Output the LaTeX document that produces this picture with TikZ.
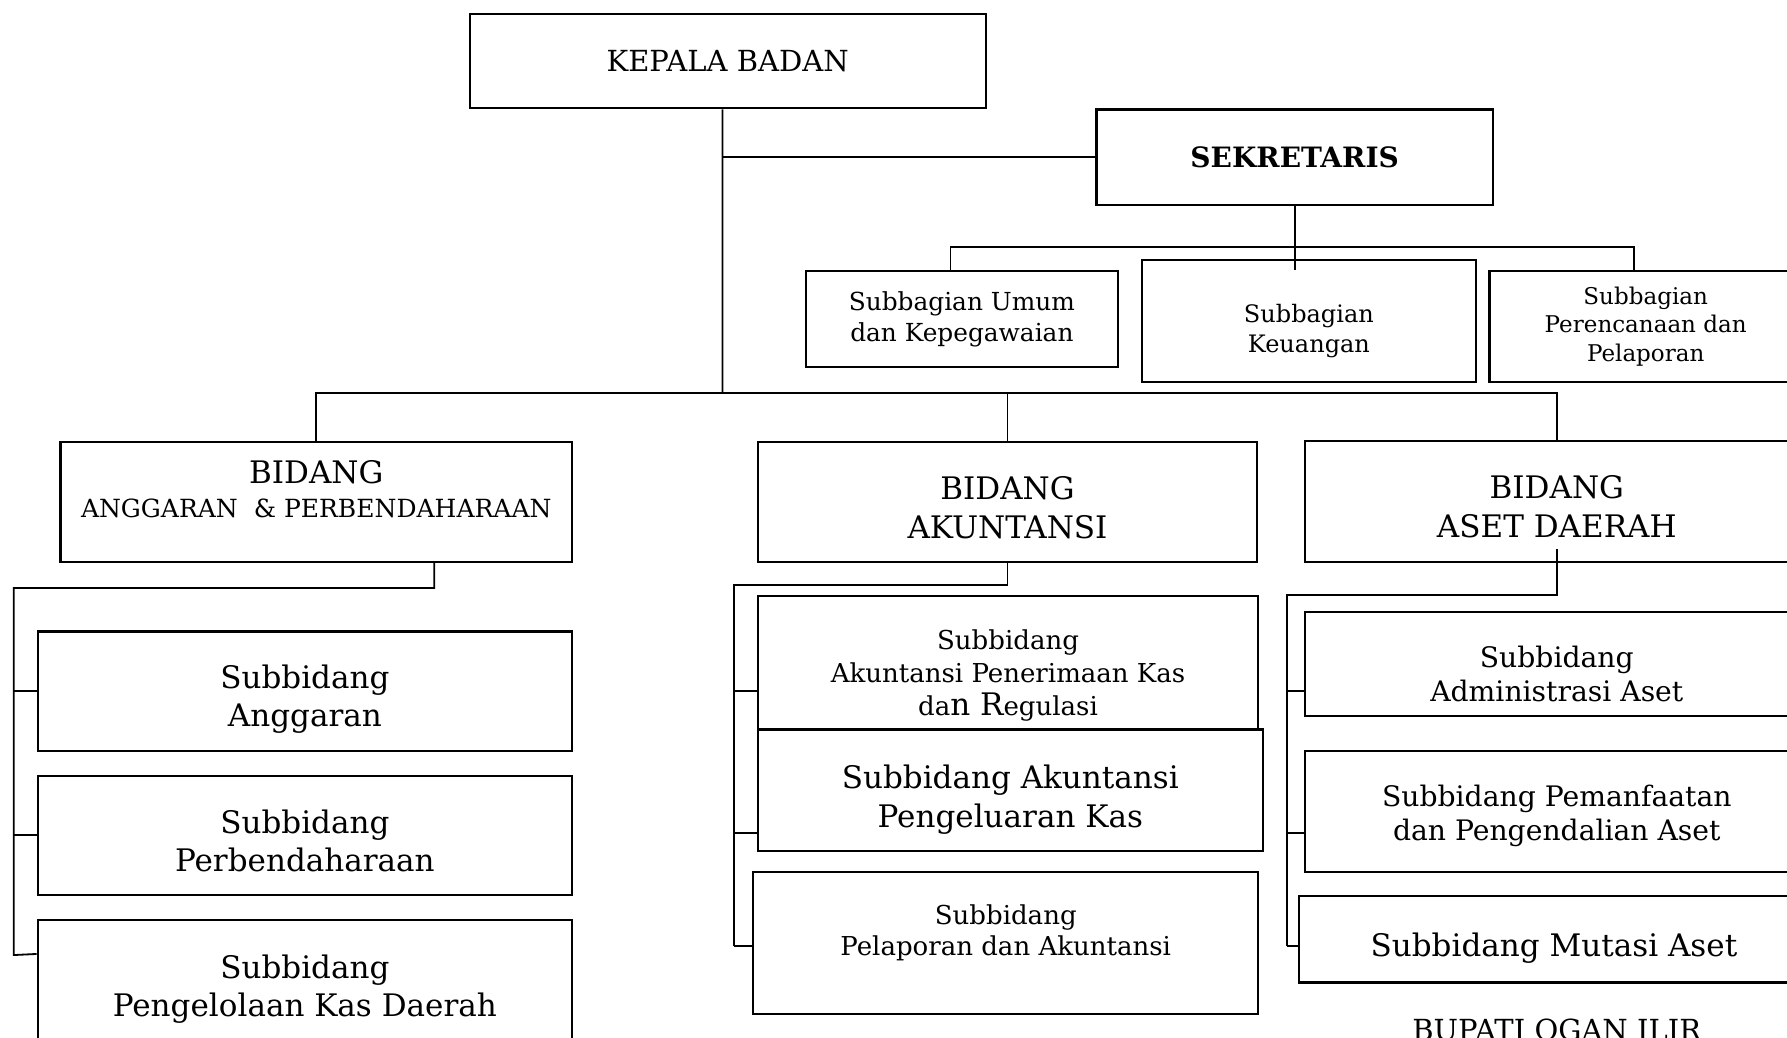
\documentclass[tikz,border=0pt]{standalone}
\usepackage{fontspec}
\setmainfont{DejaVu Serif}
\usetikzlibrary{positioning,calc}

% strut on the first line, pushes the text of a box down a little
\newcommand{\topgap}[1]{\rule{0pt}{\dimexpr 0.76em+#1\relax}}

\begin{document}
\begin{tikzpicture}[
          x=0.02cm, y=-0.02cm,
          box/.style={rectangle, draw, line width=1.1pt, align=center, inner sep=1pt},
          link/.style={line width=0.9pt},
          headfont/.style={font=\fontsize{14.5}{18}\selectfont},
          bagfont/.style={font=\fontsize{12}{15.3}\selectfont},
          bigfont/.style={font=\fontsize{15.5}{19.3}\selectfont},
          midfont/.style={font=\fontsize{14.1}{16.8}\selectfont},
          smallfont/.style={font=\fontsize{13}{15.5}\selectfont}
        ]

          \useasboundingbox (0,0) rectangle (1568,910);

          % pimpinan
          \node[box, headfont, minimum width=9.06cm, minimum height=1.66cm] (kepala) at (638.5,53.5) {KEPALA BADAN};
          \node[box, font=\fontsize{14}{17.5}\selectfont\bfseries, minimum width=6.96cm, minimum height=1.68cm] (sekretaris) at (1136,138) {SEKRETARIS};

          % subbagian
          \node[box, font=\fontsize{12.4}{15.3}\selectfont, minimum width=5.48cm, minimum height=1.68cm] (umum) at (844,280) {Subbagian Umum\\dan Kepegawaian};
          \node[box, bagfont, minimum width=5.86cm, minimum height=2.14cm] (keuangan) at (1148.5,281.5) {\topgap{0.36cm}Subbagian\\Keuangan};
          \node[box, font=\fontsize{11.5}{14.2}\selectfont, minimum width=5.48cm, minimum height=1.94cm] (perencanaan) at (1444,286.5) {Subbagian\\Perencanaan dan\\Pelaporan};

          % bidang
          \node[box, font=\fontsize{12.5}{17}\selectfont, minimum width=8.98cm, minimum height=2.10cm] (bidangA) at (277.5,440.5)
            {{\fontsize{15.5}{17}\selectfont BIDANG}\\ANGGARAN\ \ \& PERBENDAHARAAN\\[-4pt]~};
          \node[box, bigfont, minimum width=8.76cm, minimum height=2.10cm] (bidangB) at (884,440.5) {\topgap{0.2cm}BIDANG\\AKUNTANSI};
          \node[box, bigfont, minimum width=8.84cm, minimum height=2.12cm] (bidangC) at (1366,440) {\topgap{0.18cm}BIDANG\\ASET DAERAH};

          % subbidang anggaran
          \node[box, bigfont, minimum width=9.38cm, minimum height=2.10cm] (anggaran) at (267.5,606.5) {\topgap{0.28cm}Subbidang\\Anggaran};
          \node[box, bigfont, minimum width=9.38cm, minimum height=2.08cm] (perbendaharaan) at (267.5,733) {\topgap{0.2cm}Subbidang\\Perbendaharaan};
          \node[box, bigfont, minimum width=9.38cm, minimum height=2.60cm] (kasdaerah) at (267.5,872) {\topgap{0.4cm}Subbidang\\Pengelolaan Kas Daerah\\~};

          % subbidang akuntansi
          \node[box, font=\fontsize{13}{16.4}\selectfont, minimum width=8.78cm, minimum height=2.34cm] (penerimaan) at (884.5,581.5)
            {\topgap{0.44cm}Subbidang\\Akuntansi Penerimaan Kas\\da{\fontsize{15.5}{17.5}\selectfont n R}egulasi};
          \node[box, bigfont, minimum width=8.86cm, minimum height=2.14cm] (pengeluaran) at (886.5,693.5) {\topgap{0.32cm}Subbidang Akuntansi\\Pengeluaran Kas};
          \node[box, smallfont, minimum width=8.86cm, minimum height=2.50cm] (pelaporan) at (882.5,827.5) {\topgap{0.24cm}Subbidang\\Pelaporan dan Akuntansi\\[4pt]~};

          % subbidang aset
          \node[box, midfont, minimum width=8.84cm, minimum height=1.82cm] (administrasi) at (1366,582.5) {\topgap{0.36cm}Subbidang\\Administrasi Aset};
          \node[box, midfont, minimum width=8.84cm, minimum height=2.12cm] (pemanfaatan) at (1366,712) {\topgap{0.16cm}Subbidang Pemanfaatan\\dan Pengendalian Aset};
          \node[box, bigfont, minimum width=8.94cm, minimum height=1.52cm] (mutasi) at (1363.5,824) {\topgap{0.32cm}Subbidang Mutasi Aset};

          \node[font=\fontsize{14.5}{17}\selectfont, anchor=base] (bupati) at (1366,913) {BUPATI OGAN ILIR};

          % garis komando
          \coordinate (bus) at (634,345);
          \draw[link] ([xshift=-0.09cm]kepala.south) -- (bus);
          \draw[link] (bus |- sekretaris.west) -- (sekretaris.west);
          \draw[link] (bidangA.north) |- (bus) -| (bidangC.north);
          \draw[link] (bidangB.north) -- (bidangB.north |- bus);

          \coordinate (sbus) at (1139,217);
          \draw[link] ([xshift=-0.2cm]umum.north) |- (sbus) -| ([xshift=-0.2cm]perencanaan.north);
          \draw[link] (sekretaris.south) -- (sekretaris.south |- umum.north);

          % cabang bidang anggaran
          \coordinate (spineA) at (12,516);
          \draw[link] ([xshift=2.07cm]bidangA.south) |- (spineA) -- (spineA |- 0,838) -- ([yshift=-0.62cm]kasdaerah.north west);
          \draw[link] (spineA |- anggaran.west) -- (anggaran.west);
          \draw[link] (spineA |- perbendaharaan.west) -- (perbendaharaan.west);

          % cabang bidang akuntansi
          \coordinate (spineB) at (644,513);
          \draw[link] (bidangB.south) |- (spineB) -- (spineB |- 0,830);
          \draw[link] (spineB |- 0,606) -- (penerimaan.west |- 0,606);
          \draw[link] (spineB |- 0,731) -- (pengeluaran.west |- 0,731);
          \draw[link] (spineB |- 0,830) -- (pelaporan.west |- 0,830);

          % cabang bidang aset
          \coordinate (spineC) at (1129,522);
          \draw[link] ([yshift=0.24cm]bidangC.south) |- (spineC) -- (spineC |- 0,830);
          \draw[link] (spineC |- 0,606) -- (administrasi.west |- 0,606);
          \draw[link] (spineC |- 0,731) -- (pemanfaatan.west |- 0,731);
          \draw[link] (spineC |- 0,830) -- (mutasi.west |- 0,830);

        \end{tikzpicture}
\end{document}
